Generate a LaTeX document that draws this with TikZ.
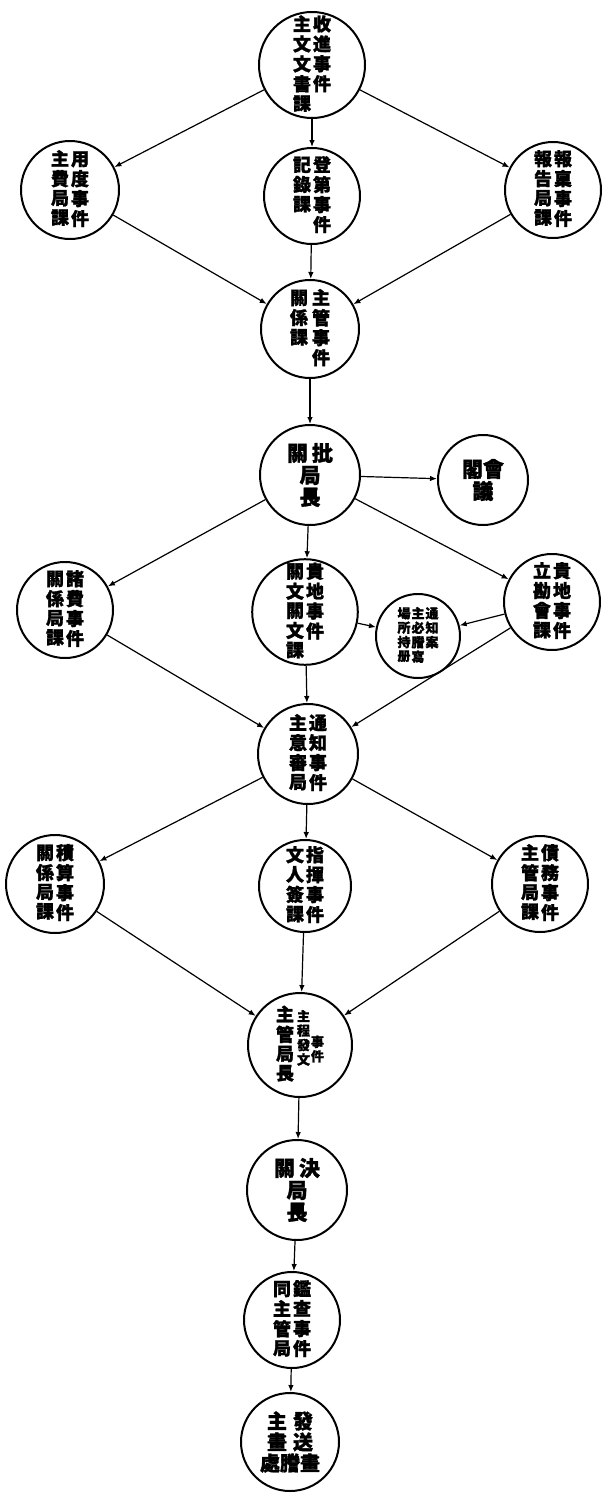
\documentclass[tikz,border=0pt]{standalone}
\usepackage{fontspec}
\newfontfamily\cjk[FakeBold=1.5]{Noto Sans CJK JP}
\usetikzlibrary{arrows.meta}
\newcommand{\vc}[1]{\begin{tabular}[t]{@{}c@{}}#1\end{tabular}}
\renewcommand{\arraystretch}{0.8}
\begin{document}
\begin{tikzpicture}[x=1pt,y=-1pt,
  circ/.style={circle,draw,line width=2pt,inner sep=0pt,align=center,
    font=\cjk\bfseries\fontsize{18}{19}\selectfont},
  small/.style={font=\cjk\bfseries\fontsize{13}{14}\selectfont},
  arr/.style={line width=1.2pt,-{Latex[length=7pt,width=5.5pt]}}]
\fill[white] (0,0) rectangle (606,1502);
\useasboundingbox (0,0) rectangle (606,1502);

\node[circ,minimum size=98pt] (n1) at (312,65) {\vc{主\\文\\文\\書\\課}\hspace{2pt}\vc{收\\進\\事\\件}};
\node[circ,minimum size=98pt] (n2) at (70,190) {\vc{主\\費\\局\\課}\hspace{2pt}\vc{用\\度\\事\\件}};
\node[circ,minimum size=96pt] (n3) at (312,196) {\vc{記\\錄\\課}\hspace{2pt}\vc{登\\第\\事\\件}};
\node[circ,minimum size=96pt] (n4) at (553,190) {\vc{報\\告\\局\\課}\hspace{2pt}\vc{報\\稟\\事\\件}};
\node[circ,minimum size=98pt] (n5) at (310,329) {\vc{關\\係\\課}\hspace{4pt}\vc{主\\管\\事\\件}};
\node[circ,minimum size=100pt,font=\cjk\bfseries\fontsize{21}{22}\selectfont] (n6) at (310,475) {關\hspace{4pt}批\\局\\長};
\node[circ,minimum size=90pt,font=\cjk\bfseries\fontsize{21}{22}\selectfont] (n7) at (483,480) {閣會\\議};
\node[circ,minimum size=96pt] (n8) at (65,610) {\vc{關\\係\\局\\課}\hspace{2pt}\vc{諸\\費\\事\\件}};
\node[circ,minimum size=100pt] (n9) at (305,612) {\vc{關\\文\\關\\文\\課}\hspace{2pt}\vc{貴\\地\\事\\件}};
\node[circ,minimum size=84pt,small] (n10) at (418,636) {\vc{場\\所\\持\\册}\hspace{1pt}\vc{主\\必\\謄\\寫}\hspace{1pt}\vc{通\\知\\案}};
\node[circ,minimum size=96pt] (n11) at (552,602) {\vc{立\\勘\\會\\課}\hspace{2pt}\vc{貴\\地\\事\\件}};
\node[circ,minimum size=100pt] (n12) at (308,754) {\vc{主\\意\\審\\局}\hspace{2pt}\vc{通\\知\\事\\件}};
\node[circ,minimum size=98pt] (n13) at (55,884) {\vc{關\\係\\局\\課}\hspace{2pt}\vc{積\\算\\事\\件}};
\node[circ,minimum size=92pt] (n14) at (305,886) {\vc{文\\人\\簽\\課}\hspace{2pt}\vc{指\\揮\\事\\件}};
\node[circ,minimum size=96pt] (n15) at (540,884) {\vc{主\\管\\局\\課}\hspace{2pt}\vc{債\\務\\事\\件}};
\node[circ,minimum size=104pt] (n16) at (300,1045) {\vc{主\\管\\局\\長}\hspace{3pt}{\fontsize{13}{14}\selectfont\vc{主\\程\\發\\文}\hspace{1pt}\vc{\mbox{}\\\mbox{}\\事\\件}}};
\node[circ,minimum size=100pt,font=\cjk\bfseries\fontsize{21}{22}\selectfont] (n17) at (297,1190) {關\hspace{4pt}決\\局\\長};
\node[circ,minimum size=96pt] (n18) at (292,1320) {\vc{同\\主\\管\\局}\hspace{2pt}\vc{鑑\\查\\事\\件}};
\node[circ,minimum size=98pt,font=\cjk\bfseries\fontsize{20}{21}\selectfont] (n19) at (290,1442) {主\hspace{6pt}發\\畫\hspace{6pt}送\\處謄畫};

\draw[arr] (n1) -- (n2);
\draw[arr] (n1) -- (n3);
\draw[arr] (n1) -- (n4);
\draw[arr] (n2) -- (n5);
\draw[arr] (n3) -- (n5);
\draw[arr] (n4) -- (n5);
\draw[arr] (n5) -- (n6);
\draw[arr] (n6) -- (n7);
\draw[arr] (n6) -- (n8);
\draw[arr] (n6) -- (n9);
\draw[arr] (n6) -- (n11);
\draw[arr] (n9) -- (n10);
\draw[arr] (n11) -- (n10);
\draw[arr] (n8) -- (n12);
\draw[arr] (n9) -- (n12);
\draw[arr] (n11) -- (n12);
\draw[arr] (n12) -- (n13);
\draw[arr] (n12) -- (n14);
\draw[arr] (n12) -- (n15);
\draw[arr] (n13) -- (n16);
\draw[arr] (n14) -- (n16);
\draw[arr] (n15) -- (n16);
\draw[arr] (n16) -- (n17);
\draw[arr] (n17) -- (n18);
\draw[arr] (n18) -- (n19);
\end{tikzpicture}
\end{document}
